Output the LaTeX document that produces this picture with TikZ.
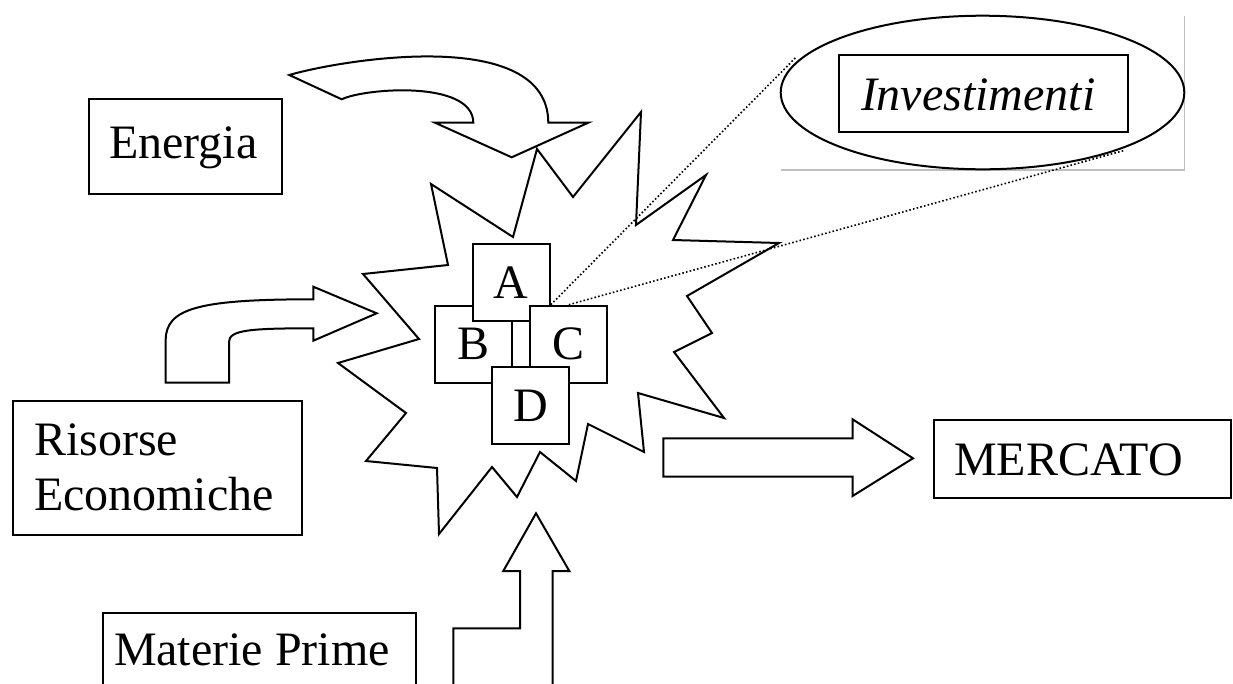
\documentclass[tikz,border=0pt]{standalone}
\usepackage{fontspec}
\setmainfont{Liberation Serif}
\usetikzlibrary{shapes.geometric}
\begin{document}
\begin{tikzpicture}[x=1pt,y=-1pt,
  line width=2pt, line join=miter,
  box/.style={draw, rectangle, inner sep=0pt, anchor=north west},
  lbl/.style={inner sep=0pt, anchor=base west, font=\fontsize{48}{55.7}\selectfont},
  sq/.style={draw, fill=white, inner sep=0pt, minimum width=77pt, minimum height=77pt, font=\fontsize{48}{55}\selectfont},
  dots/.style={line width=1.6pt, dash pattern=on 1.6pt off 2.2pt},
  blockarrow/.style={draw, line width=2pt},
  frame/.style={draw=black!25, line width=1.2pt}
]
\useasboundingbox (0,0) rectangle (1233,683);

% starburst
\draw[blockarrow] (537,149) -- (573,197) -- (641,112) -- (636,225) -- (706,175) -- (673,240)
  -- (779,243) -- (687,296) -- (712,333) -- (674,352) -- (724,418) -- (638,393) -- (644,452)
  -- (588,424) -- (576,481) -- (540,452) -- (517,497) -- (492,467) -- (439,534) -- (437,468)
  -- (366,461) -- (406,413) -- (338,363) -- (419,339) -- (363,274) -- (448,265) -- (431,184)
  -- (513,237) -- cycle;

% text boxes
\node[box, minimum width=193pt, minimum height=95pt] (energia) at (88,98) {};
\node[lbl] (energiat) at (108,158) {Energia};

\node[box, minimum width=288.7pt, minimum height=134.3pt] (risorse) at (12,400) {};
\node[lbl] (risorset1) at (33,455) {Risorse};
\node[lbl] (risorset2) at (33,510.7) {Economiche};

\node[box, minimum width=313pt, minimum height=100pt] (materie) at (102,611.7) {};
\node[lbl] (materiet) at (113,665) {Materie Prime};

\node[box, minimum width=297pt, minimum height=77.4pt] (mercato) at (933,419.3) {};
\node[lbl] (mercatot) at (953.3,475) {MERCATO};

% investimenti callout
\coordinate (fr1) at (780.7,170);
\coordinate (fr2) at (1184.3,170);
\coordinate (fr3) at (1184.3,16);
\draw[frame] (fr1) -- (fr2) -- (fr3);
\node[draw, ellipse, inner sep=0pt, minimum width=403.6pt, minimum height=153.6pt] (ell) at (982.5,92.5) {};
\node[box, minimum width=289pt, minimum height=76.7pt] (inv) at (837.7,54.3) {};
\node[lbl, font=\fontsize{48}{55.7}\selectfont\itshape] (invt) at (860,110) {Investimenti};

% block arrows
\draw[blockarrow] (289.3,75) .. controls (340,60) and (548,25) .. (548.3,122.7)
  -- (588.3,122.7) -- (511.7,157.3) -- (435,122.7) -- (473.3,122.7)
  .. controls (473,80) and (365,88) .. (341.7,99.3) -- cycle;

\draw[blockarrow] (165.7,382.7) -- (165.7,340) .. controls (165.7,308) and (200,299.3) .. (313.3,299.3)
  -- (313.3,286.7) -- (376.7,313.3) -- (313.3,340.7) -- (313.3,328.3)
  .. controls (250,328.3) and (229,330) .. (229,342) -- (229,382.7) -- cycle;

\draw[blockarrow] (453.3,690) -- (453.3,628.3) -- (520,628.3) -- (520,571) -- (503.3,571)
  -- (536,513.3) -- (569.3,571) -- (552.7,571) -- (552.7,690);

\draw[blockarrow] (663.3,438.3) -- (852.6,438.3) -- (852.6,419.3) -- (913,458.3)
  -- (852.6,496) -- (852.6,476.7) -- (663.3,476.7) -- cycle;

% A B C D
\node[sq] (B) at (473.2,344.2) {B};
\node[sq] (A) at (511.3,282.8) {A};
\node[sq] (C) at (568.8,344.2) {C};
\node[sq] (D) at (530.8,405.8) {D};

% dotted callout lines
\coordinate (e1) at (796,57.3);
\coordinate (e2) at (1123.3,150.7);
\draw[dots] (A.east |- C.north) -- (e1);
\draw[dots] (C.north) -- (e2);
\end{tikzpicture}
\end{document}
